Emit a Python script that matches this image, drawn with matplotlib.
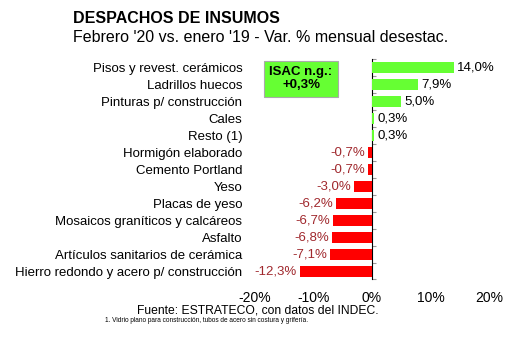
import matplotlib
matplotlib.use("Agg")
import matplotlib.pyplot as plt
import numpy as np

# ---------------------------------------------------
# Data
# ---------------------------------------------------
categories = [
    "Pisos y revest. cerámicos",
    "Ladrillos huecos",
    "Pinturas p/ construcción",
    "Cales",
    "Resto (1)",
    "Hormigón elaborado",
    "Cemento Portland",
    "Yeso",
    "Placas de yeso",
    "Mosaicos graníticos y calcáreos",
    "Asfalto",
    "Artículos sanitarios de cerámica",
    "Hierro redondo y acero p/ construcción",
]
values = [14.0, 7.9, 5.0, 0.3, 0.3, -0.7, -0.7, -3.0, -6.2, -6.7, -6.8, -7.1, -12.3]
xticks = [-20, -10, 0, 10, 20]

plt.rcParams["font.family"] = ["Liberation Sans", "DejaVu Sans"]

fig = plt.figure(figsize=(5.3, 3.4), dpi=100)
ax = fig.add_axes([0.481, 0.178, 0.4415, 0.647])

y = np.arange(len(categories))
colors = ["#66FF33" if v >= 0 else "#FF0000" for v in values]
ax.barh(y, values, height=0.65, color=colors)

# value labels
for yi, v in zip(y, values):
    txt = f"{v:.1f}%".replace(".", ",")
    if v >= 0:
        ax.text(v + 0.6, yi, txt, va="center", ha="left", fontsize=9.5, color="black")
    else:
        ax.text(v - 0.5, yi, txt, va="center", ha="right", fontsize=9.5, color="#A0282D")

ax.set_xlim(-20, 20)
ax.set_ylim(len(categories) - 0.5, -0.5)
ax.set_xticks(xticks)
ax.set_xticklabels([f"{t}%" for t in xticks], fontsize=10)
ax.tick_params(axis="x", length=0, pad=8)
ax.set_yticks(y)
ax.set_yticklabels(categories, fontsize=9.5)
ax.tick_params(axis="y", length=0, pad=9)
for s in ax.spines.values():
    s.set_visible(False)

# vertical axis at 0 with category tick marks
sec = ax.secondary_yaxis(0.5)
sec.set_yticks(np.arange(len(categories) + 1) - 0.5)
sec.set_yticklabels([])
sec.tick_params(axis="y", length=3, color="#999999", width=0.8)
sec.spines["left"].set_color("#999999")
sec.spines["left"].set_linewidth(0.8)

# ISAC box
fig.text(0.568, 0.768, "ISAC n.g.:\n+0,3%", ha="center", va="center",
         fontsize=9.5, fontweight="bold", linespacing=1.1,
         bbox=dict(boxstyle="square,pad=0.4", facecolor="#66FF33",
                   edgecolor="#AAAAAA", linewidth=0.8))

# titles
fig.text(0.138, 0.945, "DESPACHOS DE INSUMOS", fontsize=11.5, fontweight="bold",
         ha="left", va="center")
fig.text(0.138, 0.89, "Febrero '20 vs. enero '19 - Var. % mensual desestac.",
         fontsize=11.5, ha="left", va="center")

# footer
fig.text(0.487, 0.088, "Fuente: ESTRATECO, con datos del INDEC.", fontsize=8.7,
         ha="center", va="center")
fig.text(0.39, 0.056,
         "1. Vidrio plano para construcción, tubos de acero sin costura y grifería.",
         fontsize=4.7, ha="center", va="center")

fig.savefig("out.png", dpi=100)
